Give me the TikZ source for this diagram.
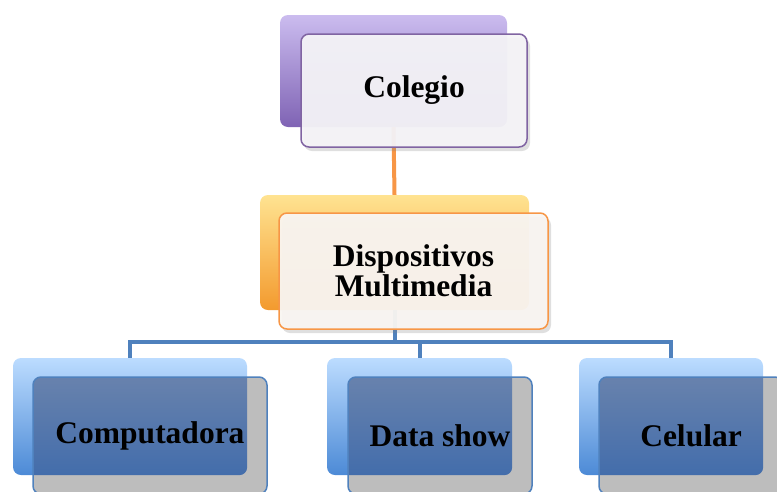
\documentclass[tikz,border=0pt]{standalone}
\usepackage{fontspec}
\setmainfont{Liberation Serif}
\usetikzlibrary{shadows}
\definecolor{purpleTop}{HTML}{CBBCEF}
\definecolor{purpleBot}{HTML}{7F63B4}
\definecolor{purpleLine}{HTML}{8064A2}
\definecolor{orangeTop}{HTML}{FFE391}
\definecolor{orangeBot}{HTML}{F39A2E}
\definecolor{orangeLine}{HTML}{F79646}
\definecolor{blueTop}{HTML}{BCDCFF}
\definecolor{blueBot}{HTML}{4C8AD6}
\definecolor{blueLine}{HTML}{4F81BD}
\definecolor{darkTop}{HTML}{6F86AD}
\definecolor{darkBot}{HTML}{3C69AB}
\definecolor{greyFill}{HTML}{BDBDBD}
\definecolor{paleFront}{HTML}{F4F3F7}
\definecolor{paleOrange}{HTML}{F9F5F1}
\begin{document}
\begin{tikzpicture}[x=1pt,y=-1pt,
  backbox/.style={rectangle, rounded corners=8pt, inner sep=0pt},
  purpleback/.style={backbox, top color=purpleTop, bottom color=purpleBot},
  orangeback/.style={backbox, top color=orangeTop, bottom color=orangeBot},
  blueback/.style={backbox, top color=blueTop, bottom color=blueBot},
  frontbox/.style={rectangle, rounded corners=8pt, inner sep=0pt, line width=1.5pt,
    font=\bfseries\fontsize{31.5}{30}\selectfont, align=center},
  softshadow/.style={drop shadow={shadow xshift=3pt, shadow yshift=-4pt, opacity=0.25}},
  overlap/.style={path picture={\shade[top color=darkTop, bottom color=darkBot, rounded corners=8pt] (#1.south west) rectangle (#1.north east);}},
  orangeconn/.style={draw=orangeLine, line width=4pt},
  blueconn/.style={draw=blueLine, line width=4pt}
]
\useasboundingbox (0,0) rectangle (777,491);
\clip (0,0) rectangle (777,491);

% back boxes
\node[purpleback, minimum width=227pt, minimum height=112pt] (colB) at (393.5,71) {};
\node[orangeback, minimum width=269pt, minimum height=115pt] (dispB) at (394.5,252.5) {};
\node[blueback, minimum width=234pt, minimum height=117pt] (compB) at (130,416.5) {};
\node[blueback, minimum width=185pt, minimum height=117pt] (dataB) at (419.5,416.5) {};
\node[blueback, minimum width=184pt, minimum height=117pt] (celB) at (671,416.5) {};

% connectors
\coordinate (bar) at (0,342);
\draw[orangeconn] (colB.south) -- (dispB.north);
\draw[blueconn] (dispB.south) -- (dispB.south |- bar);
\draw[blueconn] (compB.north) |- (bar -| celB.north) -- (celB.north);
\draw[blueconn] (dataB.north) -- (dataB.north |- bar);

% front boxes
\node[frontbox, softshadow, draw=purpleLine, fill=paleFront, fill opacity=0.95, text opacity=1,
  minimum width=226pt, minimum height=113pt] (colF) at (414,90.5) {\raisebox{-3pt}{Colegio}};
\node[frontbox, softshadow, draw=orangeLine, fill=paleOrange, fill opacity=0.95, text opacity=1,
  minimum width=269pt, minimum height=116pt] (dispF) at (413.5,271) {Dispositivos\\Multimedia};
\node[frontbox, draw=blueLine, fill=greyFill, overlap=compB,
  minimum width=234pt, minimum height=117pt] (compF) at (150,435.5) {Computadora};
\node[frontbox, draw=blueLine, fill=greyFill, overlap=dataB,
  minimum width=184pt, minimum height=117pt] (dataF) at (440,435.5) {Data show};
\node[frontbox, draw=blueLine, fill=greyFill, overlap=celB,
  minimum width=184pt, minimum height=117pt] (celF) at (691,435.5) {Celular};
\end{tikzpicture}
\end{document}
